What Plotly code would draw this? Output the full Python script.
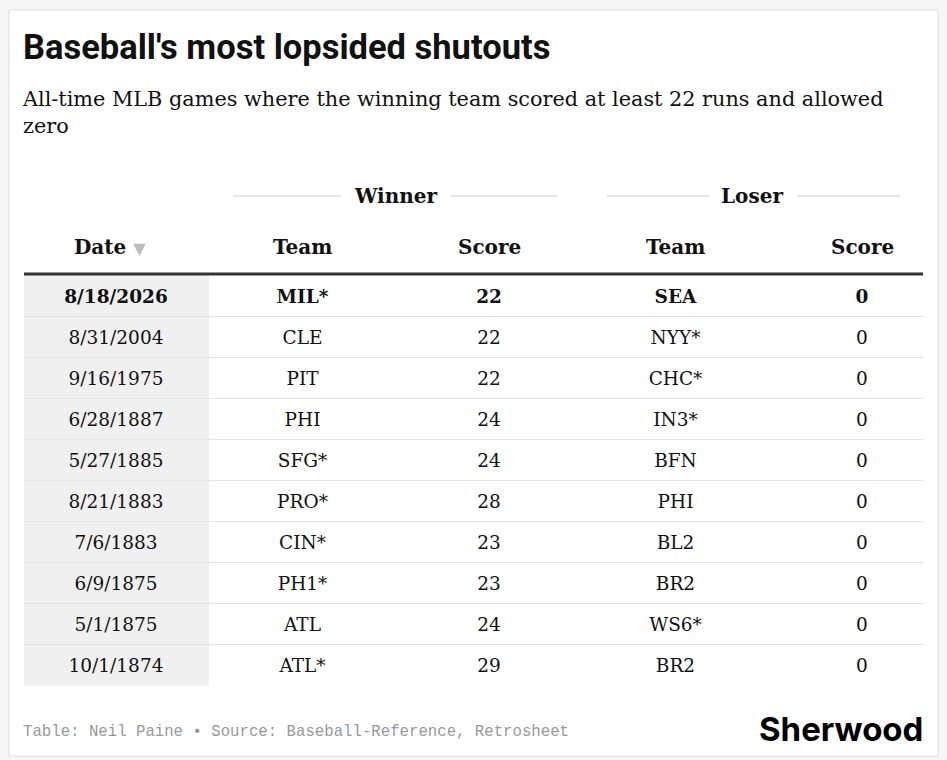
import plotly.graph_objects as go

dates = ["8/18/2026", "8/31/2004", "9/16/1975", "6/28/1887", "5/27/1885",
         "8/21/1883", "7/6/1883", "6/9/1875", "5/1/1875", "10/1/1874"]
win_team = ["MIL*", "CLE", "PIT", "PHI", "SFG*", "PRO*", "CIN*", "PH1*", "ATL", "ATL*"]
win_score = [22, 22, 22, 24, 24, 28, 23, 23, 24, 29]
lose_team = ["SEA", "NYY*", "CHC*", "IN3*", "BFN", "PHI", "BL2", "BR2", "WS6*", "BR2"]
lose_score = [0, 0, 0, 0, 0, 0, 0, 0, 0, 0]

headers = ["Date <span style='font-size:16px;color:#bbbbbb'>▼</span>",
           "Team", "Score", "Team", "Score"]
groups = ["Winner", "Loser"]

W, H = 947, 760
SERIF = "DejaVu Serif, Liberation Serif, serif"
COLX = 186.5   # px per column
ROWY = 41      # px per row
x0_px, y0_px = 116, 298   # centre of first cell (text)
row_top = 296             # row grid reference for rules

columns = [dates, win_team, win_score, lose_team, lose_score]
rows = list(range(len(dates)))

fig = go.Figure()
for i, col in enumerate(columns):
    txt = [str(v) for v in col]
    txt[0] = "<b>" + txt[0] + "</b>"
    fig.add_trace(go.Scatter(
        x=[i] * len(txt), y=rows, text=txt, mode="text",
        textfont=dict(family=SERIF, size=18.5, color="#111111"),
        hoverinfo="skip", showlegend=False,
    ))

# header labels
for i, h in enumerate(headers):
    fig.add_annotation(x=i - (0.03 if i == 0 else 0), y=-1.24, xref="x", yref="y",
                       text="<b>" + h + "</b>", showarrow=False,
                       font=dict(family=SERIF, size=20, color="#111111"))

# group headers
for g, xc in zip(groups, [1.5, 3.41]):
    fig.add_annotation(x=xc, y=-2.5, xref="x", yref="y", text="<b>" + g + "</b>",
                       showarrow=False, font=dict(family=SERIF, size=20, color="#111111"))

shapes = [
    # card
    dict(type="rect", xref="paper", yref="paper", x0=9 / W, x1=938 / W,
         y0=1 - 756 / H, y1=1 - 10 / H, fillcolor="white",
         line=dict(color="#dddddd", width=1), layer="below"),
    # shaded date column
    dict(type="rect", xref="paper", yref="paper", x0=24 / W, x1=209 / W,
         y0=1 - 686 / H, y1=1 - 275 / H, fillcolor="#f0f0f0", line_width=0, layer="below"),
    # thick header rule
    dict(type="line", xref="paper", yref="paper", x0=24 / W, x1=923 / W,
         y0=1 - 274 / H, y1=1 - 274 / H, line=dict(color="#333333", width=3)),
]
# row dividers
for k in rows[:-1]:
    yp = row_top + ROWY * k + ROWY / 2
    shapes.append(dict(type="line", xref="paper", yref="paper", x0=24 / W, x1=923 / W,
                       y0=1 - yp / H, y1=1 - yp / H, line=dict(color="#e4e4e4", width=1)))
# group header rules
for a, b in [(233, 341), (450, 558), (607, 710), (797, 900)]:
    shapes.append(dict(type="line", xref="paper", yref="paper", x0=a / W, x1=b / W,
                       y0=1 - 196 / H, y1=1 - 196 / H, line=dict(color="#cccccc", width=1)))

fig.add_annotation(x=21 / W, y=1 - 47 / H, xref="paper", yref="paper", xanchor="left",
                   yanchor="middle", text="<b>Baseball's most lopsided shutouts</b>",
                   showarrow=False,
                   font=dict(family="Roboto, Inter, sans-serif", size=34.5, color="#111111"))
fig.add_annotation(x=20 / W, y=1 - 112 / H, xref="paper", yref="paper", xanchor="left",
                   yanchor="middle", align="left",
                   text="All-time MLB games where the winning team scored at least 22 runs and allowed<br>zero",
                   showarrow=False, font=dict(family=SERIF, size=20.8, color="#111111"))
fig.add_annotation(x=21 / W, y=1 - 732 / H, xref="paper", yref="paper", xanchor="left",
                   yanchor="middle",
                   text="Table: Neil Paine • Source: Baseball-Reference, Retrosheet",
                   showarrow=False,
                   font=dict(family="Liberation Mono, DejaVu Sans Mono, monospace", size=15.7,
                             color="#999999"))
fig.add_annotation(x=925 / W, y=1 - 729 / H, xref="paper", yref="paper", xanchor="right",
                   yanchor="middle", text="<b>Sherwood</b>", showarrow=False,
                   font=dict(family="Inter, Roboto, sans-serif", size=33, color="#000000",
                             weight=900))

fig.update_layout(
    width=W, height=H, margin=dict(l=0, r=0, t=0, b=0),
    paper_bgcolor="#f6f6f6", plot_bgcolor="rgba(0,0,0,0)",
    shapes=shapes,
    xaxis=dict(range=[-x0_px / COLX, (W - x0_px) / COLX], visible=False, fixedrange=True),
    yaxis=dict(range=[(H - y0_px) / ROWY, -y0_px / ROWY], visible=False, fixedrange=True),
)

fig.write_html("out.html", config={"displayModeBar": False},
               post_script="document.body.style.margin='0';"
                           "document.body.style.background='#f6f6f6';")
